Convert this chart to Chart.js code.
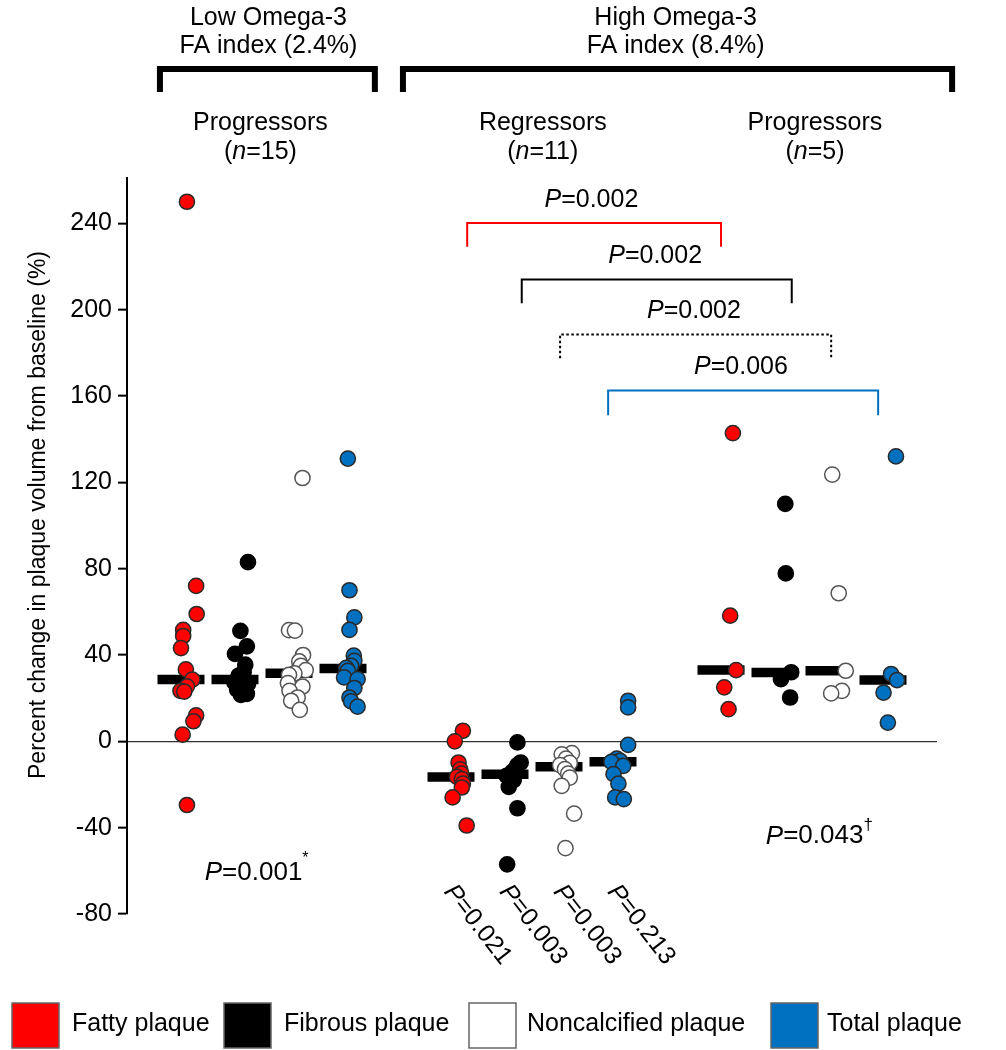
<!DOCTYPE html>
<html><head><meta charset="utf-8">
<script src="https://cdn.jsdelivr.net/npm/chart.js@4.4.0/dist/chart.umd.min.js"></script>
<style>html,body{margin:0;padding:0;background:#fff}#wrap{width:1006px;height:1050px;position:relative}</style>
</head><body><div id="wrap"><canvas id="c" width="1006" height="1050"></canvas></div>
<script>
// ---------- DATA ----------
const plaqueTypes = ['Fatty plaque', 'Fibrous plaque', 'Noncalcified plaque', 'Total plaque'];
const groupLabels = ['Progressors', 'Regressors', 'Progressors'];
const groupN = ['15', '11', '5'];
const omegaLabels = [['Low Omega-3', 'FA index (2.4%)'], ['High Omega-3', 'FA index (8.4%)']];
// x slot of each plaque type, per group
const slotsLowProg = [0, 1, 2, 3];
const slotsHighReg = [5, 6, 7, 8];
const slotsHighProg = [10, 11, 12, 13];

// Low omega-3, progressors (n=15)
const fattyLowProg    = [250, 72, 59, 51.6, 48.8, 43.2, 33.3, 28.6, 25.5, 23.4, 23, 12, 9.3, 3.1, -29.5];
const fibrousLowProg  = [83, 51.2, 44, 40.5, 35.5, 32, 30.5, 29, 27.3, 26.5, 25, 24, 23, 22, 21.5];
const noncalcLowProg  = [122, 51.5, 51.3, 40, 37, 35, 33, 31.5, 30.8, 27, 25.4, 23.4, 20.3, 18.8, 14.6];
const totalLowProg    = [131, 70, 57.4, 51.6, 39.7, 37.3, 35, 34, 32.7, 29.6, 28.8, 24.7, 20.3, 18.5, 16.1];
// High omega-3, regressors (n=11)
const fattyHighReg    = [4.9, 0, -9.8, -13, -15, -16.5, -17.5, -19.6, -21.4, -26, -39];
const fibrousHighReg  = [-0.5, -9.8, -11, -12.9, -14, -15.2, -16, -18, -21.1, -31, -57];
const noncalcHighReg  = [-5.5, -6, -8, -10, -11, -12.9, -15, -16.8, -20.6, -33.5, -49.5];
const totalHighReg    = [18.8, 15.7, -1.6, -8, -9, -9.5, -11.4, -15.2, -19.6, -26, -26.8];
// High omega-3, progressors (n=5)
const fattyHighProg   = [142.8, 58.2, 33, 25, 14.9];
const fibrousHighProg = [110, 77.8, 32, 28.8, 20.3];
const noncalcHighProg = [123.6, 68.6, 32.7, 23.4, 22.2];
const totalHighProg   = [132, 31.2, 28.4, 22.6, 8.7];

// horizontal scatter (jitter) of each point, in slot units
const fattyLowJit    = [0.11, 0.28, 0.29, 0.04, 0.04, 0.0, 0.09, 0.21, 0.11, -0.01, 0.06, 0.28, 0.23, 0.03, 0.11];
const fibrousLowJit  = [0.24, 0.10, 0.22, 0.0, 0.19, 0.16, 0.07, 0.05, -0.01, 0.24, 0.11, 0.04, 0.19, 0.22, 0.11];
const noncalcLowJit  = [0.25, 0.0, 0.11, 0.26, 0.19, 0.22, 0.31, 0.10, 0.0, -0.02, 0.25, 0.01, 0.16, 0.04, 0.20];
const totalLowJit    = [0.09, 0.12, 0.21, 0.12, 0.20, 0.21, 0.15, 0.06, 0.09, 0.02, 0.27, 0.21, 0.12, 0.15, 0.27];
const fattyRegJit    = [0.22, 0.07, 0.14, 0.17, 0.19, 0.11, 0.20, 0.22, 0.20, 0.03, 0.29];
const fibrousRegJit  = [0.23, 0.29, 0.23, 0.19, 0.14, 0.10, 0.03, 0.16, 0.07, 0.23, 0.04];
const noncalcRegJit  = [0.24, 0.05, 0.13, 0.20, 0.02, 0.11, 0.17, 0.20, 0.05, 0.28, 0.12];
const totalRegJit    = [0.28, 0.28, 0.28, 0.07, 0.13, -0.03, 0.19, 0.01, 0.10, 0.04, 0.20];
const fattyProgJit   = [0.22, 0.17, 0.28, 0.06, 0.14];
const fibrousProgJit = [0.19, 0.20, 0.30, 0.11, 0.28];
const noncalcProgJit = [0.06, 0.18, 0.31, 0.24, 0.04];
const totalProgJit   = [0.24, 0.15, 0.26, 0.01, 0.09];

// medians (black bars)
const medianLowProg  = [28.6, 28.7, 31.5, 33.8];
const medianHighReg  = [-16.5, -15.2, -11.8, -9.5];
const medianHighProg = [33, 31.9, 32.7, 28.4];

const yTicks = [-80, -40, 0, 40, 80, 120, 160, 200, 240];

// comparisons between groups (slot from, slot to, top value, text)
const compFrom  = [5.3, 6.31, 7.02, 7.91];
const compTo    = [10.0, 11.31, 12.04, 12.91];
const compTop   = [240.2, 214, 188.5, 162.6];
const compDrop  = [11, 11, 11, 11.5];
const compP     = ['0.002', '0.002', '0.002', '0.006'];
const compLabelX = [7.6, 8.78, 9.5, 10.37];
const regP = ['0.021', '0.003', '0.003', '0.213'];
const lowP = '0.001', highProgP = '0.043';

// ---------- STYLE ----------
const FONT = "'Liberation Sans', Arial, sans-serif";
const fills = ['#FF0000', '#000000', '#FFFFFF', '#0070C0'];
const strokes = ['#2a2a2a', '#000000', '#555555', '#2a2a2a'];

function pts(vals, jit, slot) { return vals.map((v, i) => ({x: slot + jit[i], y: v})); }
const series = [
  [[fattyLowProg, fattyLowJit], [fattyHighReg, fattyRegJit], [fattyHighProg, fattyProgJit]],
  [[fibrousLowProg, fibrousLowJit], [fibrousHighReg, fibrousRegJit], [fibrousHighProg, fibrousProgJit]],
  [[noncalcLowProg, noncalcLowJit], [noncalcHighReg, noncalcRegJit], [noncalcHighProg, noncalcProgJit]],
  [[totalLowProg, totalLowJit], [totalHighReg, totalRegJit], [totalHighProg, totalProgJit]]
];
const groupSlots = [slotsLowProg, slotsHighReg, slotsHighProg];
const datasets = series.map((grp, t) => ({
  label: plaqueTypes[t],
  data: grp.flatMap((g, gi) => pts(g[0], g[1], groupSlots[gi][t])),
  backgroundColor: fills[t], borderColor: strokes[t], borderWidth: 1.5,
  pointRadius: 7.6, pointHoverRadius: 7.6
}));
const medianData = [medianLowProg, medianHighReg, medianHighProg]
  .flatMap((m, gi) => m.map((v, t) => ({x: groupSlots[gi][t], y: v})));
datasets.push({
  label: 'Median', data: medianData, pointStyle: 'line',
  borderColor: '#000', backgroundColor: '#000', borderWidth: 9.5, pointRadius: 23.5, pointHoverRadius: 23.5
});

function rich(ctx, segs, x, y, align, size) {
  let w = 0;
  segs.forEach(s => { ctx.font = (s.it ? 'italic ' : '') + (s.size || size) + 'px ' + FONT; s.w = ctx.measureText(s.t).width; w += s.w; });
  let cx = align === 'center' ? x - w / 2 : x;
  segs.forEach(s => {
    ctx.font = (s.it ? 'italic ' : '') + (s.size || size) + 'px ' + FONT;
    ctx.fillText(s.t, cx, y + (s.dy || 0)); cx += s.w;
  });
}

const annot = {
  id: 'annot',
  afterDraw(chart) {
    const ctx = chart.ctx, xs = chart.scales.x, ys = chart.scales.y;
    ctx.save();
    ctx.fillStyle = '#000'; ctx.textBaseline = 'middle'; ctx.textAlign = 'left';
    // y title
    ctx.save(); ctx.translate(39, 515); ctx.rotate(-Math.PI / 2);
    ctx.font = '23px ' + FONT; ctx.textAlign = 'center';
    ctx.fillText('Percent change in plaque volume from baseline (%)', 0, 0);
    ctx.restore();
    // omega headers
    const omX = [1.62, 9.16];
    omegaLabels.forEach((l, i) => {
      rich(ctx, [{t: l[0]}], xs.getPixelForValue(omX[i]), 18, 'center', 25);
      rich(ctx, [{t: l[1]}], xs.getPixelForValue(omX[i]), 46, 'center', 25);
    });
    // header brackets
    ctx.strokeStyle = '#000'; ctx.lineWidth = 6; ctx.lineJoin = 'miter';
    [[-0.39, 3.59], [4.11, 14.28]].forEach(([a, b]) => {
      const xa = xs.getPixelForValue(a), xb = xs.getPixelForValue(b);
      ctx.beginPath(); ctx.moveTo(xa, 92); ctx.lineTo(xa, 69); ctx.lineTo(xb, 69); ctx.lineTo(xb, 92); ctx.stroke();
    });
    // group labels
    const gX = [1.47, 6.7, 11.74];
    groupLabels.forEach((g, i) => {
      const x = xs.getPixelForValue(gX[i]);
      rich(ctx, [{t: g}], x, 123, 'center', 25);
      rich(ctx, [{t: '('}, {t: 'n', it: true}, {t: '=' + groupN[i] + ')'}], x, 152, 'center', 25);
    });
    // comparison brackets
    const compColors = ['#FF0000', '#000000', '#000000', '#0070C0'];
    compFrom.forEach((f, i) => {
      const xa = xs.getPixelForValue(f), xb = xs.getPixelForValue(compTo[i]);
      const yt = ys.getPixelForValue(compTop[i]), yb = ys.getPixelForValue(compTop[i] - compDrop[i]);
      ctx.strokeStyle = compColors[i]; ctx.lineWidth = 2;
      ctx.setLineDash(i === 2 ? [2.5, 2.5] : []);
      ctx.beginPath(); ctx.moveTo(xa, yb); ctx.lineTo(xa, yt); ctx.lineTo(xb, yt); ctx.lineTo(xb, yb); ctx.stroke();
      ctx.setLineDash([]);
      ctx.fillStyle = '#000';
      rich(ctx, [{t: 'P', it: true}, {t: '=' + compP[i]}], xs.getPixelForValue(compLabelX[i]), yt - 23, 'center', 25);
    });
    // within-group p values
    rich(ctx, [{t: 'P', it: true}, {t: '=' + lowP}, {t: '*', size: 16, dy: -14}], xs.getPixelForValue(0.44), ys.getPixelForValue(-61), 'left', 26);
    rich(ctx, [{t: 'P', it: true}, {t: '=' + highProgP}, {t: '\u2020', size: 17, dy: -11}], xs.getPixelForValue(10.83), ys.getPixelForValue(-44), 'left', 26);
    // rotated regressor p values
    slotsHighReg.forEach((s, i) => {
      ctx.save();
      ctx.translate(xs.getPixelForValue(s + 0.14 + (i ? 0.03 : 0)), 880);
      ctx.rotate(52 * Math.PI / 180);
      ctx.textBaseline = 'top';
      rich(ctx, [{t: 'P', it: true}, {t: '=' + regP[i]}], 0, 0, 'left', 25);
      ctx.restore();
    });
    // legend
    const boxX = [12, 224, 469, 771], txtX = [72, 284, 527, 827];
    plaqueTypes.forEach((p, i) => {
      ctx.fillStyle = fills[i]; ctx.fillRect(boxX[i], 1003, 47, 45);
      ctx.strokeStyle = '#666'; ctx.lineWidth = 1.5; ctx.strokeRect(boxX[i], 1003, 47, 45);
      ctx.fillStyle = '#000'; ctx.textBaseline = 'middle';
      rich(ctx, [{t: p}], txtX[i], 1024, 'left', 25);
    });
    ctx.restore();
  }
};

new Chart(document.getElementById('c'), {
  type: 'scatter',
  data: {datasets},
  options: {
    responsive: false, animation: false, events: [], devicePixelRatio: 1,
    layout: {padding: {left: 0, right: 69, top: 178, bottom: 136}},
    plugins: {legend: {display: false}, tooltip: {enabled: false}},
    scales: {
      x: {type: 'linear', min: -1, max: 14, display: false},
      y: {
        type: 'linear', min: -80, max: 261,
        afterBuildTicks: s => { s.ticks = yTicks.map(v => ({value: v})); },
        afterFit: s => { s.width = 127; },
        border: {display: true, color: '#000', width: 2},
        grid: {
          color: c => (c.tick && c.tick.value === 0) ? '#333' : 'rgba(0,0,0,0)',
          lineWidth: 1.3, drawTicks: true, tickLength: 9, tickColor: '#000', tickWidth: 2
        },
        ticks: {color: '#000', font: {family: FONT, size: 25}, padding: 6}
      }
    }
  },
  plugins: [annot]
});
</script></body></html>
